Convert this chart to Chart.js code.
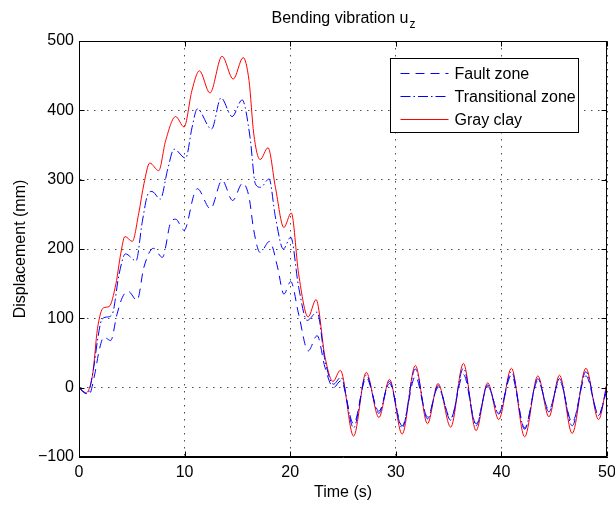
<!DOCTYPE html>
<html>
<head>
<meta charset="utf-8">
<script src="https://cdn.jsdelivr.net/npm/chart.js@4.4.1/dist/chart.umd.min.js"></script>
<style>
  html, body { margin: 0; padding: 0; background: #fff; }
  #wrap { width: 615px; height: 505px; }
</style>
</head>
<body>
<div id="wrap"><canvas id="myChart" width="615" height="505"></canvas></div>
<script>
// values (time in s, displacement in mm)
const faultTime = [0, 0.95, 1.5, 1.9, 2.35, 3.0, 3.6, 4.1, 4.65, 5.5, 6.15, 7.05, 7.9, 8.7, 9.15, 9.95, 10.9, 11.2, 12.45, 13.55, 14.55, 15.5, 16.1, 16.55, 17.15, 18.05, 18.8, 19.4, 20.05, 20.8, 21.7, 22.55, 23.3, 24.1, 24.8, 26.0, 27.2, 28.4, 29.4, 30.6, 31.85, 33.0, 34.0, 35.2, 36.4, 37.6, 38.7, 39.75, 40.95, 42.2, 43.45, 44.5, 45.5, 46.7, 48.0, 49.2, 50.0];
const faultDisp = [0, -10, 20, 53, 73, 68, 106, 130, 139, 126, 174, 201, 188, 239, 243, 227, 279, 287, 258, 299, 270, 295, 275, 227, 195, 211, 174, 135, 153, 106, 53, 75, 29, 0, 10, -52, 14, -34, 6, -55, 16, -42, 0, -44, 19, -52, 2, -36, 18, -58, 10, -32, 10, -50, 17, -38, -3];

const transTime = [0, 0.8, 1.4, 1.75, 2.15, 2.7, 3.15, 3.8, 4.4, 5.4, 6.0, 6.55, 6.9, 7.7, 8.4, 9.0, 10.1, 10.7, 11.2, 12.55, 13.45, 14.5, 15.45, 16.2, 16.7, 17.2, 18.0, 18.6, 19.35, 20.05, 20.8, 21.6, 22.55, 23.3, 24.1, 24.8, 26.0, 27.2, 28.4, 29.4, 30.6, 31.85, 33.0, 34.0, 35.2, 36.4, 37.6, 38.7, 39.75, 40.95, 42.2, 43.45, 44.5, 45.5, 46.7, 48.0, 49.2, 50.0];
const transDisp = [0, -9, 30, 68, 98, 102, 106, 164, 193, 183, 240, 280, 283, 272, 315, 344, 331, 375, 402, 373, 418, 391, 415, 361, 294, 289, 301, 246, 200, 217, 145, 97, 109, 39, 5, 15, -58, 18, -37, 9, -58, 27, -45, 3, -47, 28, -55, 4, -38, 23, -60, 13, -35, 13, -55, 23, -40, 2];

const clayTime = [0, 0.6, 1.3, 1.75, 2.3, 2.85, 3.5, 3.95, 4.35, 5.05, 5.65, 6.15, 6.7, 7.55, 8.2, 9.15, 9.95, 10.7, 11.4, 12.4, 13.55, 14.6, 15.55, 16.1, 16.55, 17.15, 17.9, 18.6, 19.4, 20.1, 20.8, 21.7, 22.45, 23.3, 24.05, 24.75, 26.0, 27.2, 28.4, 29.4, 30.6, 31.85, 33.0, 34.0, 35.2, 36.4, 37.6, 38.7, 39.75, 40.95, 42.2, 43.45, 44.5, 45.5, 46.7, 48.0, 49.2, 50.0];
const clayDisp = [0, -8, 20, 85, 115, 117, 150, 193, 218, 211, 251, 294, 324, 313, 356, 391, 376, 429, 457, 425, 478, 445, 476, 443, 366, 329, 346, 289, 231, 252, 164, 102, 127, 44, 9, 25, -70, 22, -43, 12, -67, 32, -52, 6, -57, 35, -62, 7, -46, 28, -71, 17, -42, 18, -66, 28, -46, 7];

const seriesNames = ["Fault zone", "Transitional zone", "Gray clay"];
const xTicks = [0, 10, 20, 30, 40, 50];
const yTicks = [-100, 0, 100, 200, 300, 400, 500];

const FONT = "'Liberation Sans', Arial, Helvetica, sans-serif";
Chart.defaults.font.family = FONT;
Chart.defaults.font.size = 16;
Chart.defaults.color = "#000";

function pairs(xs, ys) {
  return xs.map((x, i) => ({ x: x, y: ys[i] }));
}

const lineStyles = [
  { color: "#0000ff", dash: [9, 6] },
  { color: "#0000ff", dash: [10, 3, 1.5, 3] },
  { color: "#ff0000", dash: [] },
];

// box, inner ticks, title and legend like a matlab figure
const matlabFrame = {
  id: "matlabFrame",
  afterDraw(chart) {
    const { ctx, chartArea: a, scales } = chart;
    const x = scales.x, y = scales.y;
    const L = Math.round(a.left) + 0.5, R = Math.round(a.right) - 0.5;
    const T = Math.round(a.top) + 0.5, B = Math.round(a.bottom) - 0.5;
    ctx.save();
    ctx.setLineDash([]);
    ctx.strokeStyle = "#000";
    ctx.lineWidth = 1;
    ctx.strokeRect(L, T, R - L, B - T);

    const tl = 5;
    ctx.beginPath();
    xTicks.forEach(v => {
      const px = Math.round(x.getPixelForValue(v)) + 0.5;
      ctx.moveTo(px, B); ctx.lineTo(px, B - tl);
      ctx.moveTo(px, T); ctx.lineTo(px, T + tl);
    });
    yTicks.forEach(v => {
      const py = Math.round(y.getPixelForValue(v)) + 0.5;
      ctx.moveTo(L, py); ctx.lineTo(L + tl, py);
      ctx.moveTo(R, py); ctx.lineTo(R - tl, py);
    });
    ctx.stroke();

    // title with subscript
    ctx.fillStyle = "#000";
    ctx.textBaseline = "alphabetic";
    ctx.font = "16px " + FONT;
    const main = "Bending vibration u";
    const wMain = ctx.measureText(main).width;
    ctx.font = "12px " + FONT;
    const wSub = ctx.measureText("z").width;
    const cx = (a.left + a.right) / 2;
    const sx = cx - (wMain + wSub) / 2;
    ctx.font = "16px " + FONT;
    ctx.textAlign = "left";
    ctx.fillText(main, sx, 23);
    ctx.font = "12px " + FONT;
    ctx.fillText("z", sx + wMain + 1, 28);

    // legend
    const bx = Math.round(a.right) - 28.5, by = Math.round(a.top) + 17.5;
    const bw = 188, bh = 74;
    ctx.fillStyle = "#fff";
    ctx.fillRect(bx - bw, by, bw, bh);
    ctx.strokeStyle = "#000";
    ctx.strokeRect(bx - bw, by, bw, bh);
    ctx.font = "16px " + FONT;
    ctx.textBaseline = "middle";
    seriesNames.forEach((name, i) => {
      const ly = by + 15 + i * 23;
      ctx.save();
      ctx.lineWidth = 1;
      ctx.strokeStyle = lineStyles[i].color;
      ctx.setLineDash(lineStyles[i].dash);
      ctx.beginPath();
      ctx.moveTo(bx - bw + 10, ly);
      ctx.lineTo(bx - bw + 58, ly);
      ctx.stroke();
      ctx.restore();
      ctx.fillStyle = "#000";
      ctx.fillText(name, bx - bw + 64, ly + 1);
    });
    ctx.restore();
  },
};

const ctx = document.getElementById("myChart").getContext("2d");

const chart = new Chart(ctx, {
  type: "line",
  data: {
    datasets: [
      { label: seriesNames[0], data: pairs(faultTime, faultDisp) },
      { label: seriesNames[1], data: pairs(transTime, transDisp) },
      { label: seriesNames[2], data: pairs(clayTime, clayDisp) },
    ].map((d, i) => Object.assign(d, {
      borderColor: lineStyles[i].color,
      borderDash: lineStyles[i].dash,
      borderWidth: 1,
      fill: false,
      pointRadius: 0,
      cubicInterpolationMode: "monotone",
    })),
  },
  options: {
    responsive: false,
    animation: false,
    devicePixelRatio: 1,
    layout: { padding: { top: 41, right: 8, left: 0, bottom: 0 } },
    plugins: {
      legend: { display: false },
      title: { display: false },
      tooltip: { enabled: false },
    },
    scales: {
      x: {
        type: "linear",
        min: 0,
        max: 50,
        afterBuildTicks: (s) => { s.ticks = xTicks.map(v => ({ value: v })); },
        afterFit: (s) => {
          s.height = 48;
          s.paddingLeft = 0; s.paddingRight = 0;
        },
        ticks: { padding: 6, maxRotation: 0, autoSkip: false },
        grid: { color: "rgba(0,0,0,0.7)", lineWidth: 1, drawTicks: false },
        border: { display: true, color: "#000", width: 1, dash: [1.5, 5.5] },
        title: { display: true, text: "Time (s)", padding: { top: 0, bottom: 3 } },
      },
      y: {
        type: "linear",
        min: -100,
        max: 500,
        afterBuildTicks: (s) => { s.ticks = yTicks.map(v => ({ value: v })); },
        afterFit: (s) => {
          s.width = 79;
          s.paddingTop = 0; s.paddingBottom = 0;
        },
        ticks: { padding: 5, autoSkip: false, callback: (v) => (v < 0 ? "\u2212" + Math.abs(v) : v) },
        grid: { color: "rgba(0,0,0,0.7)", lineWidth: 1, drawTicks: false },
        border: { display: true, color: "#000", width: 1, dash: [1.5, 5.5] },
        title: { display: true, text: "Displacement (mm)", padding: { top: 11, bottom: 0 } },
      },
    },
  },
  plugins: [matlabFrame],
});
</script>
</body>
</html>
